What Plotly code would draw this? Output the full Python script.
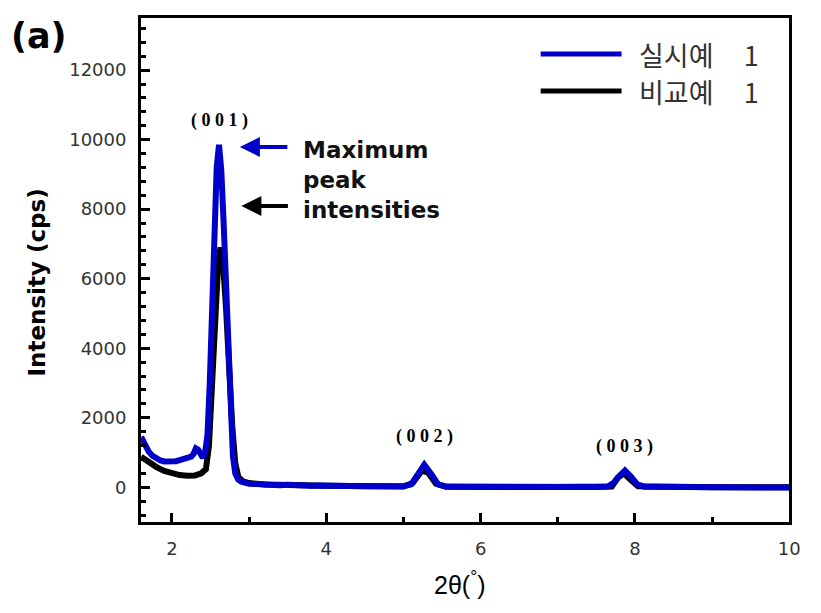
import plotly.graph_objects as go

# ---- data ----
two_theta_ex = [1.60, 1.65, 1.70, 1.75, 1.80, 1.85, 1.90, 1.95, 2.00, 2.05, 2.10, 2.15, 2.20, 2.25,
                2.28, 2.31, 2.34, 2.37, 2.40, 2.43, 2.46, 2.49, 2.52, 2.55, 2.58, 2.61, 2.64, 2.67,
                2.70, 2.73, 2.76, 2.79, 2.82, 2.86, 2.90, 2.95, 3.00, 3.10, 3.20, 3.30, 3.40, 3.50,
                3.60, 3.70, 3.80, 3.90, 4.00, 4.20, 4.50, 4.80, 5.00, 5.10, 5.18, 5.27, 5.36, 5.45,
                5.55, 6.00, 6.50, 7.00, 7.50, 7.65, 7.72, 7.80, 7.87, 7.95, 8.03, 8.12, 8.50, 9.00,
                9.50, 10.00]
intensity_ex = [1450, 1200, 1020, 900, 820, 770, 740, 730, 735, 750, 780, 800, 830, 880,
                960, 1120, 1080, 930, 850, 1000, 1500, 3000, 5500, 7800, 9200, 9850, 9100, 7600,
                5800, 3800, 2000, 900, 400, 220, 160, 120, 100, 90, 70, 80, 60, 70,
                50, 60, 45, 50, 40, 30, 30, 25, 30, 80, 380, 650, 380, 80,
                20, 10, 10, 5, 5, 20, 120, 330, 480, 300, 80, 15, 5, 0,
                0, -10]

two_theta_cmp = [1.60, 1.70, 1.80, 1.90, 2.00, 2.10, 2.20, 2.30, 2.38, 2.44, 2.48, 2.52, 2.56,
                 2.60, 2.63, 2.66, 2.70, 2.74, 2.78, 2.82, 2.86, 2.92, 3.00, 3.20, 3.50, 4.00,
                 5.00, 5.12, 5.24, 5.32, 5.42, 5.55, 7.00, 7.70, 7.78, 7.86, 7.94, 8.04, 9.00,
                 10.00]
intensity_cmp = [880, 720, 580, 470, 400, 350, 330, 340, 400, 520, 1200, 3000, 5000,
                 6500, 6900, 6500, 5200, 3400, 1800, 700, 300, 170, 120, 80, 60, 40,
                 20, 120, 480, 420, 100, 15, 5, 20, 280, 400, 220, 30, 0,
                 0]

series_names = ["실시예 1", "비교예 1"]
peak_labels = ["(001)", "(002)", "(003)"]
peak_positions = [2.61, 5.27, 7.87]
peak_label_heights = [10560, 1460, 1170]
y_ticks = [0, 2000, 4000, 6000, 8000, 10000, 12000]
x_ticks = [2, 4, 6, 8, 10]

BLUE = "#0000C8"
BLACK = "#000000"
W, H = 821, 613


def px(xp):
    return xp / W


def py(yp):
    return (H - yp) / H


fig = go.Figure()
fig.add_trace(go.Scatter(x=two_theta_cmp, y=intensity_cmp, mode="lines", name=series_names[1],
                         line=dict(color=BLACK, width=6), showlegend=False))
fig.add_trace(go.Scatter(x=two_theta_ex, y=intensity_ex, mode="lines", name=series_names[0],
                         line=dict(color=BLUE, width=6), showlegend=False))

tickfont = dict(family="DejaVu Sans", size=18, color="#333333")
fig.update_xaxes(range=[1.6, 10], domain=[px(143), px(800)], tickvals=x_ticks, tickformat="d",
                 ticks="inside", ticklen=9, tickwidth=3,
                 tickcolor="black", showline=True, linewidth=3, linecolor="black", mirror=True,
                 showgrid=False, zeroline=False, tickfont=tickfont, ticklabelstandoff=8,
                 minor=dict(dtick=1, ticks="inside", ticklen=5, tickwidth=3, tickcolor="black"))
fig.update_yaxes(range=[-1000, 13500], domain=[py(522), py(18)], tickvals=y_ticks, tickformat="d",
                 ticks="inside", ticklen=9, tickwidth=3,
                 tickcolor="black", showline=True, linewidth=3, linecolor="black", mirror=True,
                 showgrid=False, zeroline=False, tickfont=tickfont, ticklabelstandoff=8,
                 minor=dict(dtick=400, ticks="inside", ticklen=5, tickwidth=3, tickcolor="black"))

ann = []
# peak labels
for lab, xx, yy in zip(peak_labels, peak_positions, peak_label_heights):
    spaced = " ".join(list(lab))
    ann.append(dict(x=xx, y=yy, xref="x", yref="y", text=spaced, showarrow=False,
                    xanchor="center", yanchor="middle",
                    font=dict(family="Liberation Serif", size=18, color="black", weight="bold")))
# maximum peak intensity note
ann.append(dict(x=3.67, y=8840, xref="x", yref="y", text="Maximum<br>peak<br>intensities",
                showarrow=False, xanchor="left", yanchor="middle", align="left",
                font=dict(family="DejaVu Sans", size=23, color="#111111", weight="bold")))
ann.append(dict(x=2.88, y=9790, xref="x", yref="y", text="", showarrow=True, ax=49, ay=0,
                arrowhead=2, arrowsize=1, arrowwidth=4, arrowcolor=BLUE))
ann.append(dict(x=2.90, y=8090, xref="x", yref="y", text="", showarrow=True, ax=48, ay=0,
                arrowhead=2, arrowsize=1, arrowwidth=4, arrowcolor=BLACK))
# panel label
ann.append(dict(x=px(40), y=py(36), xref="paper", yref="paper", text="<b>(a)</b>", showarrow=False,
                xanchor="center", yanchor="middle",
                font=dict(family="DejaVu Sans", size=35, color="black")))
# axis titles
ann.append(dict(x=px(38), y=py(282), xref="paper", yref="paper", text="<b>Intensity (cps)</b>",
                textangle=-90, showarrow=False, xanchor="center", yanchor="middle",
                font=dict(family="DejaVu Sans", size=23, color="black")))
ann.append(dict(x=px(466), y=py(583), xref="paper", yref="paper", text="2θ(<sup>°</sup>)",
                showarrow=False, xanchor="center", yanchor="middle",
                font=dict(family="Liberation Sans", size=25, color="black")))
# legend
legend_rows = [(54, BLUE, series_names[0]), (91, BLACK, series_names[1])]
shapes = []
for yy, col, name in legend_rows:
    shapes.append(dict(type="line", xref="paper", yref="paper", x0=px(548), x1=px(630),
                       y0=py(yy), y1=py(yy), line=dict(color=col, width=5)))
    ann.append(dict(x=px(646), y=py(yy), xref="paper", yref="paper",
                    text=name.replace(" ", "\u00a0" * 5), showarrow=False,
                    xanchor="left", yanchor="middle",
                    font=dict(family="Noto Sans CJK KR", size=27, color="#333333")))

fig.update_layout(width=W, height=H, margin=dict(l=0, r=0, t=0, b=0, pad=0),
                  plot_bgcolor="white", paper_bgcolor="white",
                  annotations=ann, shapes=shapes, showlegend=False)

fig.write_html("out.html", config={"displayModeBar": False},
               post_script="document.body.style.margin='0';document.body.style.overflow='hidden';")
